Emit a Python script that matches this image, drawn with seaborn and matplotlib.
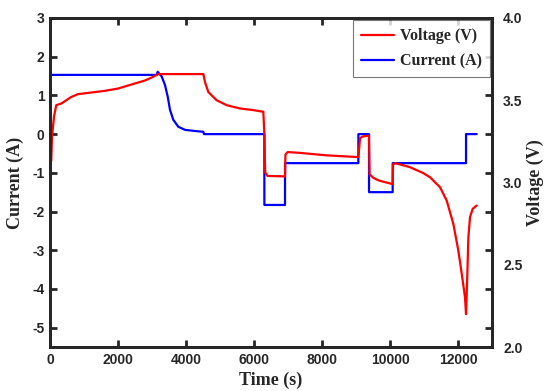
import matplotlib
matplotlib.use("Agg")
import matplotlib.pyplot as plt
import seaborn as sns
import pandas as pd

# current (A) - step profile
cur_t = [0, 3138, 3168, 3285, 3382, 3462, 3529, 3626, 3774, 3971, 4265, 4509, 4530,
         6304, 6305, 6912, 6913, 9069, 9070, 9382, 9383, 10078, 10079, 12235, 12236, 12549]
cur_i = [1.53, 1.53, 1.61, 1.49, 1.27, 0.97, 0.63, 0.37, 0.19, 0.11, 0.08, 0.06, 0.0,
         0.0, -1.83, -1.83, -0.75, -0.75, 0.0, 0.0, -1.5, -1.5, -0.75, -0.75, 0.0, 0.0]

# voltage (V)
volt_t = [0, 38, 59, 118, 185, 332, 479, 626, 824, 1215, 1608, 2000, 2304, 2794, 2990,
          3186, 4510, 4559, 4657, 4804, 4902, 5196, 5588, 5980, 6274, 6304, 6330, 6400, 6912,
          6925, 6990, 7353, 8137, 9020, 9069, 9120, 9200, 9382,
          9400, 9500, 9608, 9706, 10078, 10090, 10150, 10588, 10980, 11176, 11471,
          11667, 11863, 12010, 12127, 12206, 12235, 12265, 12304, 12353, 12431, 12549]
volt_v = [3.10, 3.134, 3.276, 3.40, 3.47, 3.48, 3.50, 3.52, 3.537, 3.547, 3.557, 3.571,
          3.59, 3.62, 3.638, 3.659, 3.659, 3.61, 3.55, 3.52, 3.50, 3.47, 3.45, 3.44, 3.43,
          3.30, 3.06, 3.04, 3.037, 3.17, 3.185, 3.18, 3.165, 3.155, 3.155, 3.27, 3.28, 3.285,
          3.05, 3.03, 3.018, 3.01, 2.99, 3.11, 3.118, 3.093, 3.057, 3.032, 2.971,
          2.89, 2.748, 2.585, 2.42, 2.30, 2.20, 2.38, 2.666, 2.79, 2.84, 2.86]

df_cur = pd.DataFrame({'t': cur_t, 'i': cur_i})
df_volt = pd.DataFrame({'t': volt_t, 'v': volt_v})

sns.set_style('ticks')
plt.rcParams['font.family'] = ['Liberation Sans', 'DejaVu Sans']
plt.rcParams['font.weight'] = 'bold'
plt.rcParams['axes.unicode_minus'] = False

fig = plt.figure(figsize=(5.45, 3.91), dpi=100)
ax = fig.add_axes([0.0917, 0.1125, 0.8111, 0.8415])
ax2 = ax.twinx()

sns.lineplot(data=df_cur, x='t', y='i', ax=ax, color='#0000ff', linewidth=1.6,
             estimator=None, sort=False, label='Current (A)', legend=False)
sns.lineplot(data=df_volt, x='t', y='v', ax=ax2, color='#ff0000', linewidth=1.6,
             estimator=None, sort=False, label='Voltage (V)', legend=False)

ax.set_xlim(0, 13000)
ax.set_ylim(-5.5, 3)
ax2.set_ylim(2.0, 4.0)
ax.set_xticks([0, 2000, 4000, 6000, 8000, 10000, 12000])
ax.set_yticks([-5, -4, -3, -2, -1, 0, 1, 2, 3])
ax2.set_yticks([2.0, 2.5, 3.0, 3.5, 4.0])
ax2.set_yticklabels(['2.0', '2.5', '3.0', '3.5', '4.0'])

ax.tick_params(direction='in', length=5, width=2, top=True, right=True,
               labelsize=10, pad=4)
ax2.tick_params(axis='y', length=0, labelsize=10, pad=8)
for a in (ax, ax2):
    for s in a.spines.values():
        s.set_linewidth(2)

serif = ['Liberation Serif', 'DejaVu Serif']
ax.set_xlabel('Time (s)', fontsize=13, fontweight='bold', family=serif, labelpad=4)
ax.set_ylabel('Current (A)', fontsize=13, fontweight='bold', family=serif, labelpad=6)
ax2.set_ylabel('Voltage (V)', fontsize=13, fontweight='bold', family=serif, labelpad=3)

h1, l1 = ax.get_legend_handles_labels()
h2, l2 = ax2.get_legend_handles_labels()
leg = ax2.legend(h2 + h1, l2 + l1, loc='upper right', frameon=True, fancybox=False,
                 prop={'family': serif, 'weight': 'bold', 'size': 11.5},
                 handlelength=2.1, handletextpad=0.35, borderaxespad=0.15,
                 labelspacing=0.55, borderpad=0.5)
leg.get_frame().set_edgecolor('#555555')
leg.get_frame().set_linewidth(0.8)

fig.savefig('out.png', dpi=100)
